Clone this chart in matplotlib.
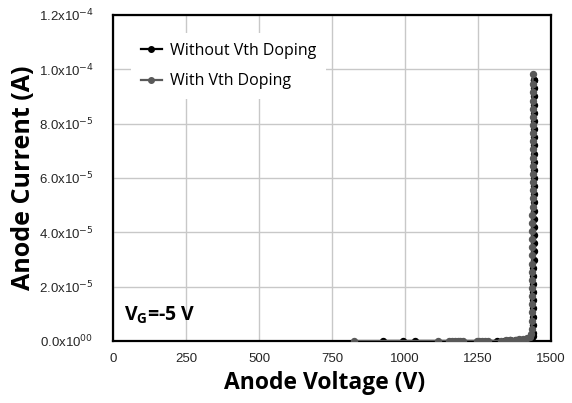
import matplotlib
matplotlib.use("Agg")
import matplotlib.pyplot as plt

# ---- data ----
x_ticks = [0, 250, 500, 750, 1000, 1250, 1500]
y_ticks = [0.0, 2e-5, 4e-5, 6e-5, 8e-5, 1.0e-4, 1.2e-4]
y_tick_labels = [r"0.0x10$^{00}$", r"2.0x10$^{-5}$", r"4.0x10$^{-5}$", r"6.0x10$^{-5}$",
                 r"8.0x10$^{-5}$", r"1.0x10$^{-4}$", r"1.2x10$^{-4}$"]

without_v = [926, 994, 1034, 1316, 1340, 1360, 1380, 1400, 1415, 1425, 1432, 1436, 1438,
             1439, 1439, 1440, 1440, 1440, 1440, 1440, 1440, 1440, 1441, 1441, 1441, 1441,
             1441, 1441, 1441, 1441, 1441, 1441, 1442, 1442, 1442, 1442, 1442, 1442, 1442,
             1442, 1442, 1442, 1442, 1442, 1442, 1442]
without_i = [0.0, 0.0, 0.0, 0.0, 0.1e-6, 0.2e-6, 0.3e-6, 0.4e-6, 0.6e-6, 0.8e-6, 1.1e-6, 1.5e-6, 2.0e-6,
             3e-6, 6e-6, 9e-6, 12e-6, 15e-6, 18e-6, 21e-6, 24e-6, 27e-6, 30e-6, 33e-6, 36e-6,
             39e-6, 42e-6, 45e-6, 48e-6, 51e-6, 54e-6, 57e-6, 60e-6, 63e-6, 66e-6, 69e-6,
             72e-6, 75e-6, 78e-6, 81e-6, 84e-6, 87e-6, 90e-6, 93e-6, 96e-6, 96e-6]

with_v = [825, 1112, 1150, 1160, 1170, 1180, 1190, 1200, 1245, 1255, 1265, 1275, 1285,
          1330, 1345, 1360, 1375, 1390, 1405, 1418, 1428, 1432, 1434, 1434, 1435, 1435,
          1435, 1435, 1435, 1436, 1436, 1436, 1436, 1436, 1436, 1436, 1436, 1437, 1437,
          1437, 1437, 1437, 1437, 1437, 1437, 1437, 1437, 1437, 1437, 1437, 1437, 1437,
          1437, 1437]
with_i = [0.0, 0.0, 0.0, 0.0, 0.0, 0.0, 0.0, 0.0, 0.0, 0.0, 0.0, 0.0, 0.0,
          0.1e-6, 0.2e-6, 0.3e-6, 0.5e-6, 0.7e-6, 0.9e-6, 1.2e-6, 1.5e-6, 2.5e-6,
          4.5e-6, 7.5e-6, 10.5e-6, 13.5e-6, 16.5e-6, 19.5e-6, 22.5e-6, 25.5e-6, 28.5e-6,
          31.5e-6, 34.5e-6, 37.5e-6, 40.5e-6, 43.5e-6, 46.5e-6, 49.5e-6, 52.5e-6, 55.5e-6,
          58.5e-6, 61.5e-6, 64.5e-6, 67.5e-6, 70.5e-6, 73.5e-6, 76.5e-6, 79.5e-6, 82.5e-6,
          85.5e-6, 88.5e-6, 91.5e-6, 94.5e-6, 98.3e-6]

LBL_FONT = ["Open Sans", "DejaVu Sans"]

fig = plt.figure(figsize=(5.72, 4.03), dpi=100)
ax = fig.add_axes([113 / 572, 1 - 341 / 403, (551 - 113) / 572, (341 - 15) / 403])

ax.plot(without_v, without_i, color="#000000", lw=1.6, marker="o", ms=4.3,
        label="Without Vth Doping", zorder=3)
ax.plot(with_v, with_i, color="#595959", lw=1.6, marker="o", ms=4.3,
        label="With Vth Doping", zorder=4)

ax.set_xlim(0, 1500)
ax.set_ylim(0, 1.2e-4)
ax.set_xticks(x_ticks)
ax.set_yticks(y_ticks)
ax.set_yticklabels(y_tick_labels)
ax.grid(True, color="#c8c8c8", lw=1.0)
ax.set_axisbelow(True)
ax.tick_params(length=0, labelsize=9.5)
ax.tick_params(axis="y", pad=14)
ax.tick_params(axis="x", pad=9)
for lab in ax.get_xticklabels() + ax.get_yticklabels():
    lab.set_fontfamily("Liberation Sans")
    lab.set_color("#262626")
for s in ax.spines.values():
    s.set_linewidth(1.6)
    s.set_color("black")

ax.set_xlabel("Anode Voltage (V)", fontsize=16.5, fontweight="bold",
              family=LBL_FONT, labelpad=4)
ax.xaxis.label.set_x(0.482)
ax.set_ylabel("Anode Current (A)", fontsize=18, fontweight="bold",
              family=LBL_FONT, labelpad=2)

leg = ax.legend(loc="upper left", bbox_to_anchor=(0.024, 0.968), frameon=True,
                facecolor="white", edgecolor="none", framealpha=1, fancybox=False,
                handlelength=1.3, handletextpad=0.5, labelspacing=0.9, borderpad=0.6,
                prop={"family": LBL_FONT, "size": 11.5})
for h in leg.legend_handles:
    h.set_markersize(4)

ax.text(0.025, 0.08, r"V$_\mathregular{G}$=-5 V", transform=ax.transAxes,
        fontsize=14, fontweight="bold", family=LBL_FONT,
        ha="left", va="center")

fig.savefig("out.png", dpi=100)
